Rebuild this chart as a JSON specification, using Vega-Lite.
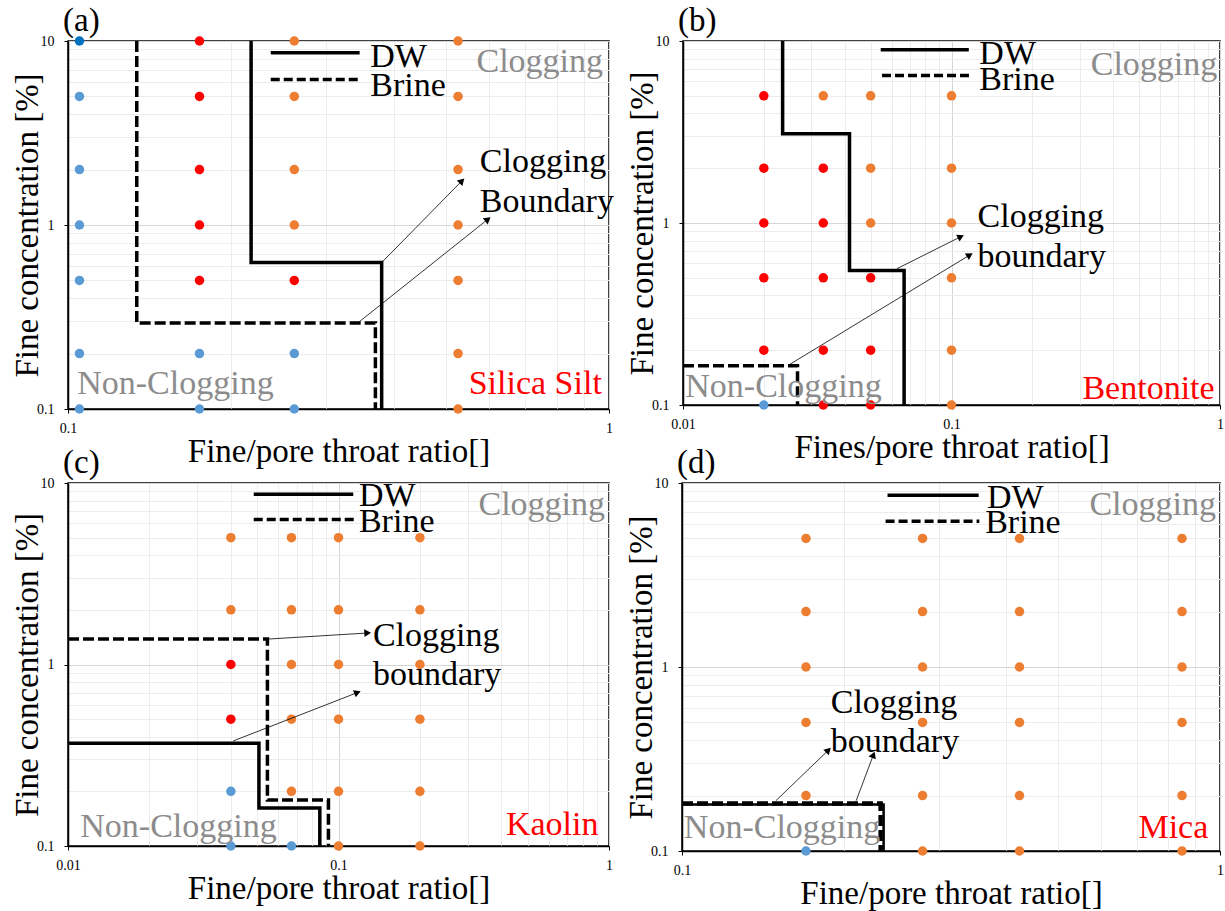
{
  "$schema": "https://vega.github.io/schema/vega-lite/v6.json",
  "background": "white",
  "padding": {"left": 10, "top": 4, "right": 2, "bottom": 0},
  "config": {
    "view": {"stroke": "black", "strokeWidth": 1.5},
    "text": {"font": "Liberation Serif"},
    "title": {"font": "Liberation Serif", "fontSize": 33, "fontWeight": "normal", "anchor": "start", "frame": "group", "color": "black", "offset": -4, "dx": -5},
    "axis": {"labelFont": "Liberation Serif", "labelFontSize": 14, "labelColor": "black", "labelFlush": false, "labelOverlap": false, "titleFont": "Liberation Serif", "titleFontSize": 33, "titleFontWeight": "normal", "titleColor": "black", "domainColor": "black", "domainWidth": 1.5, "tickColor": "black", "tickSize": 4, "gridWidth": 1},
    "axisX": {"labelPadding": 8, "titlePadding": 0},
    "axisY": {"labelPadding": 10, "titlePadding": -8}
  },
  "spacing": -23,
  "vconcat": [
    {
      "spacing": 10,
      "hconcat": [
        {
          "width": 541, "height": 368,
          "title": {"text": "(a)"},
          "encoding": {
            "x": {"field": "x", "type": "quantitative", "scale": {"type": "log", "domain": [0.1, 1], "nice": false},
              "axis": {"title": "Fine/pore throat ratio[]", "values": [0.1,0.2,0.3,0.4,0.5,0.6,0.7,0.8,0.9,1],
                "labelExpr": "datum.value == 0.01 ? '0.01' : datum.value == 0.1 ? '0.1' : datum.value == 1 ? '1' : datum.value == 10 ? '10' : ''",
                "gridColor": {"condition": {"test": "datum.value == 0.01 || datum.value == 0.1 || datum.value == 1 || datum.value == 10", "value": "#d6d6d6"}, "value": "#ececec"},
                "tickOpacity": {"condition": {"test": "datum.value == 0.01 || datum.value == 0.1 || datum.value == 1 || datum.value == 10", "value": 1}, "value": 0}}},
            "y": {"field": "y", "type": "quantitative", "scale": {"type": "log", "domain": [0.1, 10], "nice": false},
              "axis": {"title": "Fine concentration [%]", "values": [0.1,0.2,0.3,0.4,0.5,0.6,0.7,0.8,0.9,1,2,3,4,5,6,7,8,9,10],
                "labelExpr": "datum.value == 0.01 ? '0.01' : datum.value == 0.1 ? '0.1' : datum.value == 1 ? '1' : datum.value == 10 ? '10' : ''",
                "gridColor": {"condition": {"test": "datum.value == 0.01 || datum.value == 0.1 || datum.value == 1 || datum.value == 10", "value": "#d6d6d6"}, "value": "#ececec"},
                "tickOpacity": {"condition": {"test": "datum.value == 0.01 || datum.value == 0.1 || datum.value == 1 || datum.value == 10", "value": 1}, "value": 0}}}
          },
          "layer": [
            {"data": {"values": [
              {"x": 0.105, "y": 10, "c": "non2"}, {"x": 0.105, "y": 5, "c": "non"}, {"x": 0.105, "y": 2, "c": "non"}, {"x": 0.105, "y": 1, "c": "non"}, {"x": 0.105, "y": 0.5, "c": "non"}, {"x": 0.105, "y": 0.2, "c": "non"}, {"x": 0.105, "y": 0.1, "c": "non"},
              {"x": 0.175, "y": 10, "c": "partial"}, {"x": 0.175, "y": 5, "c": "partial"}, {"x": 0.175, "y": 2, "c": "partial"}, {"x": 0.175, "y": 1, "c": "partial"}, {"x": 0.175, "y": 0.5, "c": "partial"}, {"x": 0.175, "y": 0.2, "c": "non"}, {"x": 0.175, "y": 0.1, "c": "non"},
              {"x": 0.262, "y": 10, "c": "clog"}, {"x": 0.262, "y": 5, "c": "clog"}, {"x": 0.262, "y": 2, "c": "clog"}, {"x": 0.262, "y": 1, "c": "clog"}, {"x": 0.262, "y": 0.5, "c": "partial"}, {"x": 0.262, "y": 0.2, "c": "non"}, {"x": 0.262, "y": 0.1, "c": "non"},
              {"x": 0.526, "y": 10, "c": "clog"}, {"x": 0.526, "y": 5, "c": "clog"}, {"x": 0.526, "y": 2, "c": "clog"}, {"x": 0.526, "y": 1, "c": "clog"}, {"x": 0.526, "y": 0.5, "c": "clog"}, {"x": 0.526, "y": 0.2, "c": "clog"}, {"x": 0.526, "y": 0.1, "c": "clog"}
            ]},
              "mark": {"type": "circle", "size": 90, "opacity": 1},
              "encoding": {"color": {"field": "c", "type": "nominal", "scale": {"domain": ["clog", "partial", "non", "non2"], "range": ["#ED7D31", "#FF0000", "#5B9BD5", "#0070C0"]}, "legend": null}}},
            {"data": {"values": [{"i": 1, "x": 0.218, "y": 10}, {"i": 2, "x": 0.218, "y": 0.625}, {"i": 3, "x": 0.38, "y": 0.625}, {"i": 4, "x": 0.38, "y": 0.1}]},
              "mark": {"type": "line", "color": "black", "strokeWidth": 3.5}, "encoding": {"order": {"field": "i"}}},
            {"data": {"values": [{"i": 1, "x": 0.134, "y": 10}, {"i": 2, "x": 0.134, "y": 0.293}, {"i": 3, "x": 0.37, "y": 0.293}, {"i": 4, "x": 0.37, "y": 0.1}]},
              "mark": {"type": "line", "color": "black", "strokeWidth": 3.5, "strokeDash": [11, 4]}, "encoding": {"order": {"field": "i"}}},
            {"data": {"values": [{"x": 0.237, "x2": 0.346, "y": 8.64}]},
              "mark": {"type": "rule", "color": "black", "strokeWidth": 3.5}, "encoding": {"x2": {"field": "x2"}}},
            {"data": {"values": [{"x": 0.237, "x2": 0.346, "y": 6.18}]},
              "mark": {"type": "rule", "color": "black", "strokeWidth": 3.5, "strokeDash": [9, 4]}, "encoding": {"x2": {"field": "x2"}}},
            {"data": {"values": [{"x": 0.38, "y": 0.625, "x2": 0.533, "y2": 1.72}, {"x": 0.343, "y": 0.293, "x2": 0.595, "y2": 1.065}]},
              "mark": {"type": "rule", "color": "black", "strokeWidth": 0.8}, "encoding": {"x2": {"field": "x2"}, "y2": {"field": "y2"}}},
            {"data": {"values": [{"x": 0.533, "y": 1.72}]}, "mark": {"type": "point", "shape": "triangle", "filled": true, "color": "black", "opacity": 1, "size": 60, "angle": 44.5}},
            {"data": {"values": [{"x": 0.595, "y": 1.065}]}, "mark": {"type": "point", "shape": "triangle", "filled": true, "color": "black", "opacity": 1, "size": 60, "angle": 51.5}},
            {"data": {"values": [{"x": 0.362, "y": 8.2, "t": "DW"}, {"x": 0.362, "y": 5.7, "t": "Brine"}]},
              "mark": {"type": "text", "align": "left", "baseline": "middle", "fontSize": 34, "color": "black"}, "encoding": {"text": {"field": "t"}}},
            {"data": {"values": [{"x": 0.975, "y": 7.7, "t": "Clogging"}]},
              "mark": {"type": "text", "align": "right", "baseline": "middle", "fontSize": 34, "color": "#8c8c8c"}, "encoding": {"text": {"field": "t"}}},
            {"data": {"values": [{"x": 0.104, "y": 0.137, "t": "Non-Clogging"}]},
              "mark": {"type": "text", "align": "left", "baseline": "middle", "fontSize": 34, "color": "#8c8c8c"}, "encoding": {"text": {"field": "t"}}},
            {"data": {"values": [{"x": 0.97, "y": 0.137, "t": "Silica Silt"}]},
              "mark": {"type": "text", "align": "right", "baseline": "middle", "fontSize": 34, "color": "#FF0000"}, "encoding": {"text": {"field": "t"}}},
            {"data": {"values": [{"x": 0.577, "y": 2.2, "t": "Clogging"}, {"x": 0.577, "y": 1.33, "t": "Boundary"}]},
              "mark": {"type": "text", "align": "left", "baseline": "middle", "fontSize": 34, "color": "black"}, "encoding": {"text": {"field": "t"}}}
          ]
        },
        {
          "width": 537, "height": 364,
          "title": {"text": "(b)"},
          "encoding": {
            "x": {"field": "x", "type": "quantitative", "scale": {"type": "log", "domain": [0.01, 1], "nice": false},
              "axis": {"title": "Fines/pore throat ratio[]", "values": [0.01,0.02,0.03,0.04,0.05,0.06,0.07,0.08,0.09,0.1,0.2,0.3,0.4,0.5,0.6,0.7,0.8,0.9,1],
                "labelExpr": "datum.value == 0.01 ? '0.01' : datum.value == 0.1 ? '0.1' : datum.value == 1 ? '1' : datum.value == 10 ? '10' : ''",
                "gridColor": {"condition": {"test": "datum.value == 0.01 || datum.value == 0.1 || datum.value == 1 || datum.value == 10", "value": "#d6d6d6"}, "value": "#ececec"},
                "tickOpacity": {"condition": {"test": "datum.value == 0.01 || datum.value == 0.1 || datum.value == 1 || datum.value == 10", "value": 1}, "value": 0}}},
            "y": {"field": "y", "type": "quantitative", "scale": {"type": "log", "domain": [0.1, 10], "nice": false},
              "axis": {"title": "Fine concentration [%]", "values": [0.1,0.2,0.3,0.4,0.5,0.6,0.7,0.8,0.9,1,2,3,4,5,6,7,8,9,10],
                "labelExpr": "datum.value == 0.01 ? '0.01' : datum.value == 0.1 ? '0.1' : datum.value == 1 ? '1' : datum.value == 10 ? '10' : ''",
                "gridColor": {"condition": {"test": "datum.value == 0.01 || datum.value == 0.1 || datum.value == 1 || datum.value == 10", "value": "#d6d6d6"}, "value": "#ececec"},
                "tickOpacity": {"condition": {"test": "datum.value == 0.01 || datum.value == 0.1 || datum.value == 1 || datum.value == 10", "value": 1}, "value": 0}}}
          },
          "layer": [
            {"data": {"values": [
              {"x": 0.02, "y": 5, "c": "partial"}, {"x": 0.02, "y": 2, "c": "partial"}, {"x": 0.02, "y": 1, "c": "partial"}, {"x": 0.02, "y": 0.5, "c": "partial"}, {"x": 0.02, "y": 0.2, "c": "partial"}, {"x": 0.02, "y": 0.1, "c": "non"},
              {"x": 0.0333, "y": 5, "c": "clog"}, {"x": 0.0333, "y": 2, "c": "partial"}, {"x": 0.0333, "y": 1, "c": "partial"}, {"x": 0.0333, "y": 0.5, "c": "partial"}, {"x": 0.0333, "y": 0.2, "c": "partial"}, {"x": 0.0333, "y": 0.1, "c": "partial"},
              {"x": 0.05, "y": 5, "c": "clog"}, {"x": 0.05, "y": 2, "c": "clog"}, {"x": 0.05, "y": 1, "c": "clog"}, {"x": 0.05, "y": 0.5, "c": "partial"}, {"x": 0.05, "y": 0.2, "c": "partial"}, {"x": 0.05, "y": 0.1, "c": "partial"},
              {"x": 0.1, "y": 5, "c": "clog"}, {"x": 0.1, "y": 2, "c": "clog"}, {"x": 0.1, "y": 1, "c": "clog"}, {"x": 0.1, "y": 0.5, "c": "clog"}, {"x": 0.1, "y": 0.2, "c": "clog"}, {"x": 0.1, "y": 0.1, "c": "clog"}
            ]},
              "mark": {"type": "circle", "size": 90, "opacity": 1},
              "encoding": {"color": {"field": "c", "type": "nominal", "scale": {"domain": ["clog", "partial", "non", "non2"], "range": ["#ED7D31", "#FF0000", "#5B9BD5", "#0070C0"]}, "legend": null}}},
            {"data": {"values": [{"i": 1, "x": 0.0235, "y": 10}, {"i": 2, "x": 0.0235, "y": 3.09}, {"i": 3, "x": 0.0417, "y": 3.09}, {"i": 4, "x": 0.0417, "y": 0.548}, {"i": 5, "x": 0.0666, "y": 0.548}, {"i": 6, "x": 0.0666, "y": 0.1}]},
              "mark": {"type": "line", "color": "black", "strokeWidth": 3.5}, "encoding": {"order": {"field": "i"}}},
            {"data": {"values": [{"i": 1, "x": 0.01, "y": 0.1645}, {"i": 2, "x": 0.0267, "y": 0.1645}, {"i": 3, "x": 0.0267, "y": 0.1}]},
              "mark": {"type": "line", "color": "black", "strokeWidth": 3.5, "strokeDash": [11, 4]}, "encoding": {"order": {"field": "i"}}},
            {"data": {"values": [{"x": 0.0545, "x2": 0.116, "y": 8.96}]},
              "mark": {"type": "rule", "color": "black", "strokeWidth": 3.5}, "encoding": {"x2": {"field": "x2"}}},
            {"data": {"values": [{"x": 0.0551, "x2": 0.1188, "y": 6.47}]},
              "mark": {"type": "rule", "color": "black", "strokeWidth": 3.5, "strokeDash": [9, 4]}, "encoding": {"x2": {"field": "x2"}}},
            {"data": {"values": [{"x": 0.0625, "y": 0.56, "x2": 0.1074, "y2": 0.836}, {"x": 0.0247, "y": 0.1655, "x2": 0.116, "y2": 0.662}]},
              "mark": {"type": "rule", "color": "black", "strokeWidth": 0.8}, "encoding": {"x2": {"field": "x2"}, "y2": {"field": "y2"}}},
            {"data": {"values": [{"x": 0.1074, "y": 0.836}]}, "mark": {"type": "point", "shape": "triangle", "filled": true, "color": "black", "opacity": 1, "size": 60, "angle": 63.4}},
            {"data": {"values": [{"x": 0.116, "y": 0.662}]}, "mark": {"type": "point", "shape": "triangle", "filled": true, "color": "black", "opacity": 1, "size": 60, "angle": 58.8}},
            {"data": {"values": [{"x": 0.127, "y": 8.5, "t": "DW"}, {"x": 0.127, "y": 6.1, "t": "Brine"}]},
              "mark": {"type": "text", "align": "left", "baseline": "middle", "fontSize": 34, "color": "black"}, "encoding": {"text": {"field": "t"}}},
            {"data": {"values": [{"x": 0.977, "y": 7.35, "t": "Clogging"}]},
              "mark": {"type": "text", "align": "right", "baseline": "middle", "fontSize": 34, "color": "#8c8c8c"}, "encoding": {"text": {"field": "t"}}},
            {"data": {"values": [{"x": 0.0102, "y": 0.125, "t": "Non-Clogging"}]},
              "mark": {"type": "text", "align": "left", "baseline": "middle", "fontSize": 34, "color": "#8c8c8c"}, "encoding": {"text": {"field": "t"}}},
            {"data": {"values": [{"x": 0.955, "y": 0.1225, "t": "Bentonite"}]},
              "mark": {"type": "text", "align": "right", "baseline": "middle", "fontSize": 34, "color": "#FF0000"}, "encoding": {"text": {"field": "t"}}},
            {"data": {"values": [{"x": 0.125, "y": 1.077, "t": "Clogging"}, {"x": 0.125, "y": 0.649, "t": "boundary"}]},
              "mark": {"type": "text", "align": "left", "baseline": "middle", "fontSize": 34, "color": "black"}, "encoding": {"text": {"field": "t"}}}
          ]
        }
      ]
    },
    {
      "spacing": 10,
      "hconcat": [
        {
          "width": 541, "height": 363,
          "title": {"text": "(c)"},
          "encoding": {
            "x": {"field": "x", "type": "quantitative", "scale": {"type": "log", "domain": [0.01, 1], "nice": false},
              "axis": {"title": "Fine/pore throat ratio[]", "values": [0.01,0.02,0.03,0.04,0.05,0.06,0.07,0.08,0.09,0.1,0.2,0.3,0.4,0.5,0.6,0.7,0.8,0.9,1],
                "labelExpr": "datum.value == 0.01 ? '0.01' : datum.value == 0.1 ? '0.1' : datum.value == 1 ? '1' : datum.value == 10 ? '10' : ''",
                "gridColor": {"condition": {"test": "datum.value == 0.01 || datum.value == 0.1 || datum.value == 1 || datum.value == 10", "value": "#d6d6d6"}, "value": "#ececec"},
                "tickOpacity": {"condition": {"test": "datum.value == 0.01 || datum.value == 0.1 || datum.value == 1 || datum.value == 10", "value": 1}, "value": 0}}},
            "y": {"field": "y", "type": "quantitative", "scale": {"type": "log", "domain": [0.1, 10], "nice": false},
              "axis": {"title": "Fine concentration [%]", "values": [0.1,0.2,0.3,0.4,0.5,0.6,0.7,0.8,0.9,1,2,3,4,5,6,7,8,9,10],
                "labelExpr": "datum.value == 0.01 ? '0.01' : datum.value == 0.1 ? '0.1' : datum.value == 1 ? '1' : datum.value == 10 ? '10' : ''",
                "gridColor": {"condition": {"test": "datum.value == 0.01 || datum.value == 0.1 || datum.value == 1 || datum.value == 10", "value": "#d6d6d6"}, "value": "#ececec"},
                "tickOpacity": {"condition": {"test": "datum.value == 0.01 || datum.value == 0.1 || datum.value == 1 || datum.value == 10", "value": 1}, "value": 0}}}
          },
          "layer": [
            {"data": {"values": [
              {"x": 0.04, "y": 5, "c": "clog"}, {"x": 0.04, "y": 2, "c": "clog"}, {"x": 0.04, "y": 1, "c": "partial"}, {"x": 0.04, "y": 0.5, "c": "partial"}, {"x": 0.04, "y": 0.2, "c": "non"}, {"x": 0.04, "y": 0.1, "c": "non"},
              {"x": 0.067, "y": 5, "c": "clog"}, {"x": 0.067, "y": 2, "c": "clog"}, {"x": 0.067, "y": 1, "c": "clog"}, {"x": 0.067, "y": 0.5, "c": "clog"}, {"x": 0.067, "y": 0.2, "c": "clog"}, {"x": 0.067, "y": 0.1, "c": "non"},
              {"x": 0.1, "y": 5, "c": "clog"}, {"x": 0.1, "y": 2, "c": "clog"}, {"x": 0.1, "y": 1, "c": "clog"}, {"x": 0.1, "y": 0.5, "c": "clog"}, {"x": 0.1, "y": 0.2, "c": "clog"}, {"x": 0.1, "y": 0.1, "c": "clog"},
              {"x": 0.2, "y": 5, "c": "clog"}, {"x": 0.2, "y": 2, "c": "clog"}, {"x": 0.2, "y": 1, "c": "clog"}, {"x": 0.2, "y": 0.5, "c": "clog"}, {"x": 0.2, "y": 0.2, "c": "clog"}, {"x": 0.2, "y": 0.1, "c": "clog"}
            ]},
              "mark": {"type": "circle", "size": 90, "opacity": 1},
              "encoding": {"color": {"field": "c", "type": "nominal", "scale": {"domain": ["clog", "partial", "non", "non2"], "range": ["#ED7D31", "#FF0000", "#5B9BD5", "#0070C0"]}, "legend": null}}},
            {"data": {"values": [{"i": 1, "x": 0.01, "y": 0.368}, {"i": 2, "x": 0.0508, "y": 0.368}, {"i": 3, "x": 0.0508, "y": 0.162}, {"i": 4, "x": 0.0853, "y": 0.162}, {"i": 5, "x": 0.0853, "y": 0.1}]},
              "mark": {"type": "line", "color": "black", "strokeWidth": 3.5}, "encoding": {"order": {"field": "i"}}},
            {"data": {"values": [{"i": 1, "x": 0.01, "y": 1.38}, {"i": 2, "x": 0.0546, "y": 1.38}, {"i": 3, "x": 0.0546, "y": 0.179}, {"i": 4, "x": 0.0918, "y": 0.179}, {"i": 5, "x": 0.0918, "y": 0.1}]},
              "mark": {"type": "line", "color": "black", "strokeWidth": 3.5, "strokeDash": [11, 4]}, "encoding": {"order": {"field": "i"}}},
            {"data": {"values": [{"x": 0.0486, "x2": 0.1134, "y": 8.66}]},
              "mark": {"type": "rule", "color": "black", "strokeWidth": 3.5}, "encoding": {"x2": {"field": "x2"}}},
            {"data": {"values": [{"x": 0.0486, "x2": 0.1153, "y": 6.29}]},
              "mark": {"type": "rule", "color": "black", "strokeWidth": 3.5, "strokeDash": [9, 4]}, "encoding": {"x2": {"field": "x2"}}},
            {"data": {"values": [{"x": 0.0546, "y": 1.38, "x2": 0.127, "y2": 1.49}, {"x": 0.0408, "y": 0.379, "x2": 0.1165, "y2": 0.697}]},
              "mark": {"type": "rule", "color": "black", "strokeWidth": 0.8}, "encoding": {"x2": {"field": "x2"}, "y2": {"field": "y2"}}},
            {"data": {"values": [{"x": 0.127, "y": 1.49}]}, "mark": {"type": "point", "shape": "triangle", "filled": true, "color": "black", "opacity": 1, "size": 60, "angle": 86.5}},
            {"data": {"values": [{"x": 0.1165, "y": 0.697}]}, "mark": {"type": "point", "shape": "triangle", "filled": true, "color": "black", "opacity": 1, "size": 60, "angle": 68.7}},
            {"data": {"values": [{"x": 0.119, "y": 8.44, "t": "DW"}, {"x": 0.119, "y": 6.08, "t": "Brine"}]},
              "mark": {"type": "text", "align": "left", "baseline": "middle", "fontSize": 34, "color": "black"}, "encoding": {"text": {"field": "t"}}},
            {"data": {"values": [{"x": 0.967, "y": 7.52, "t": "Clogging"}]},
              "mark": {"type": "text", "align": "right", "baseline": "middle", "fontSize": 34, "color": "#8c8c8c"}, "encoding": {"text": {"field": "t"}}},
            {"data": {"values": [{"x": 0.0111, "y": 0.127, "t": "Non-Clogging"}]},
              "mark": {"type": "text", "align": "left", "baseline": "middle", "fontSize": 34, "color": "#8c8c8c"}, "encoding": {"text": {"field": "t"}}},
            {"data": {"values": [{"x": 0.914, "y": 0.13, "t": "Kaolin"}]},
              "mark": {"type": "text", "align": "right", "baseline": "middle", "fontSize": 34, "color": "#FF0000"}, "encoding": {"text": {"field": "t"}}},
            {"data": {"values": [{"x": 0.134, "y": 1.44, "t": "Clogging"}, {"x": 0.134, "y": 0.873, "t": "boundary"}]},
              "mark": {"type": "text", "align": "left", "baseline": "middle", "fontSize": 34, "color": "black"}, "encoding": {"text": {"field": "t"}}}
          ]
        },
        {
          "width": 538, "height": 368,
          "title": {"text": "(d)"},
          "encoding": {
            "x": {"field": "x", "type": "quantitative", "scale": {"type": "log", "domain": [0.1, 1], "nice": false},
              "axis": {"title": "Fine/pore throat ratio[]", "values": [0.1,0.2,0.3,0.4,0.5,0.6,0.7,0.8,0.9,1],
                "labelExpr": "datum.value == 0.01 ? '0.01' : datum.value == 0.1 ? '0.1' : datum.value == 1 ? '1' : datum.value == 10 ? '10' : ''",
                "gridColor": {"condition": {"test": "datum.value == 0.01 || datum.value == 0.1 || datum.value == 1 || datum.value == 10", "value": "#d6d6d6"}, "value": "#ececec"},
                "tickOpacity": {"condition": {"test": "datum.value == 0.01 || datum.value == 0.1 || datum.value == 1 || datum.value == 10", "value": 1}, "value": 0}}},
            "y": {"field": "y", "type": "quantitative", "scale": {"type": "log", "domain": [0.1, 10], "nice": false},
              "axis": {"title": "Fine concentration [%]", "values": [0.1,0.2,0.3,0.4,0.5,0.6,0.7,0.8,0.9,1,2,3,4,5,6,7,8,9,10],
                "labelExpr": "datum.value == 0.01 ? '0.01' : datum.value == 0.1 ? '0.1' : datum.value == 1 ? '1' : datum.value == 10 ? '10' : ''",
                "gridColor": {"condition": {"test": "datum.value == 0.01 || datum.value == 0.1 || datum.value == 1 || datum.value == 10", "value": "#d6d6d6"}, "value": "#ececec"},
                "tickOpacity": {"condition": {"test": "datum.value == 0.01 || datum.value == 0.1 || datum.value == 1 || datum.value == 10", "value": 1}, "value": 0}}}
          },
          "layer": [
            {"data": {"values": [
              {"x": 0.17, "y": 5, "c": "clog"}, {"x": 0.17, "y": 2, "c": "clog"}, {"x": 0.17, "y": 1, "c": "clog"}, {"x": 0.17, "y": 0.5, "c": "clog"}, {"x": 0.17, "y": 0.2, "c": "clog"}, {"x": 0.17, "y": 0.1, "c": "non"},
              {"x": 0.28, "y": 5, "c": "clog"}, {"x": 0.28, "y": 2, "c": "clog"}, {"x": 0.28, "y": 1, "c": "clog"}, {"x": 0.28, "y": 0.5, "c": "clog"}, {"x": 0.28, "y": 0.2, "c": "clog"}, {"x": 0.28, "y": 0.1, "c": "clog"},
              {"x": 0.424, "y": 5, "c": "clog"}, {"x": 0.424, "y": 2, "c": "clog"}, {"x": 0.424, "y": 1, "c": "clog"}, {"x": 0.424, "y": 0.5, "c": "clog"}, {"x": 0.424, "y": 0.2, "c": "clog"}, {"x": 0.424, "y": 0.1, "c": "clog"},
              {"x": 0.85, "y": 5, "c": "clog"}, {"x": 0.85, "y": 2, "c": "clog"}, {"x": 0.85, "y": 1, "c": "clog"}, {"x": 0.85, "y": 0.5, "c": "clog"}, {"x": 0.85, "y": 0.2, "c": "clog"}, {"x": 0.85, "y": 0.1, "c": "clog"}
            ]},
              "mark": {"type": "circle", "size": 90, "opacity": 1},
              "encoding": {"color": {"field": "c", "type": "nominal", "scale": {"domain": ["clog", "partial", "non", "non2"], "range": ["#ED7D31", "#FF0000", "#5B9BD5", "#0070C0"]}, "legend": null}}},
            {"data": {"values": [{"i": 1, "x": 0.1, "y": 0.179}, {"i": 2, "x": 0.237, "y": 0.179}, {"i": 3, "x": 0.237, "y": 0.1}]},
              "mark": {"type": "line", "color": "black", "strokeWidth": 2.5}, "encoding": {"order": {"field": "i"}}},
            {"data": {"values": [{"i": 1, "x": 0.1, "y": 0.181}, {"i": 2, "x": 0.234, "y": 0.181}, {"i": 3, "x": 0.234, "y": 0.1}]},
              "mark": {"type": "line", "color": "black", "strokeWidth": 4.5, "strokeDash": [11, 4]}, "encoding": {"order": {"field": "i"}}},
            {"data": {"values": [{"x": 0.241, "x2": 0.356, "y": 8.57}]},
              "mark": {"type": "rule", "color": "black", "strokeWidth": 3.5}, "encoding": {"x2": {"field": "x2"}}},
            {"data": {"values": [{"x": 0.239, "x2": 0.357, "y": 6.2}]},
              "mark": {"type": "rule", "color": "black", "strokeWidth": 3.5, "strokeDash": [9, 4]}, "encoding": {"x2": {"field": "x2"}}},
            {"data": {"values": [{"x": 0.1494, "y": 0.1875, "x2": 0.1865, "y2": 0.35}, {"x": 0.2107, "y": 0.1875, "x2": 0.2265, "y2": 0.329}]},
              "mark": {"type": "rule", "color": "black", "strokeWidth": 0.8}, "encoding": {"x2": {"field": "x2"}, "y2": {"field": "y2"}}},
            {"data": {"values": [{"x": 0.1865, "y": 0.35}]}, "mark": {"type": "point", "shape": "triangle", "filled": true, "color": "black", "opacity": 1, "size": 60, "angle": 46}},
            {"data": {"values": [{"x": 0.2265, "y": 0.329}]}, "mark": {"type": "point", "shape": "triangle", "filled": true, "color": "black", "opacity": 1, "size": 60, "angle": 20.6}},
            {"data": {"values": [{"x": 0.369, "y": 8.29, "t": "DW"}, {"x": 0.366, "y": 6.07, "t": "Brine"}]},
              "mark": {"type": "text", "align": "left", "baseline": "middle", "fontSize": 34, "color": "black"}, "encoding": {"text": {"field": "t"}}},
            {"data": {"values": [{"x": 0.983, "y": 7.63, "t": "Clogging"}]},
              "mark": {"type": "text", "align": "right", "baseline": "middle", "fontSize": 34, "color": "#8c8c8c"}, "encoding": {"text": {"field": "t"}}},
            {"data": {"values": [{"x": 0.1008, "y": 0.134, "t": "Non-Clogging"}]},
              "mark": {"type": "text", "align": "left", "baseline": "middle", "fontSize": 34, "color": "#8c8c8c"}, "encoding": {"text": {"field": "t"}}},
            {"data": {"values": [{"x": 0.951, "y": 0.134, "t": "Mica"}]},
              "mark": {"type": "text", "align": "right", "baseline": "middle", "fontSize": 34, "color": "#FF0000"}, "encoding": {"text": {"field": "t"}}},
            {"data": {"values": [{"x": 0.189, "y": 0.641, "t": "Clogging"}, {"x": 0.189, "y": 0.389, "t": "boundary"}]},
              "mark": {"type": "text", "align": "left", "baseline": "middle", "fontSize": 34, "color": "black"}, "encoding": {"text": {"field": "t"}}}
          ]
        }
      ]
    }
  ]
}
